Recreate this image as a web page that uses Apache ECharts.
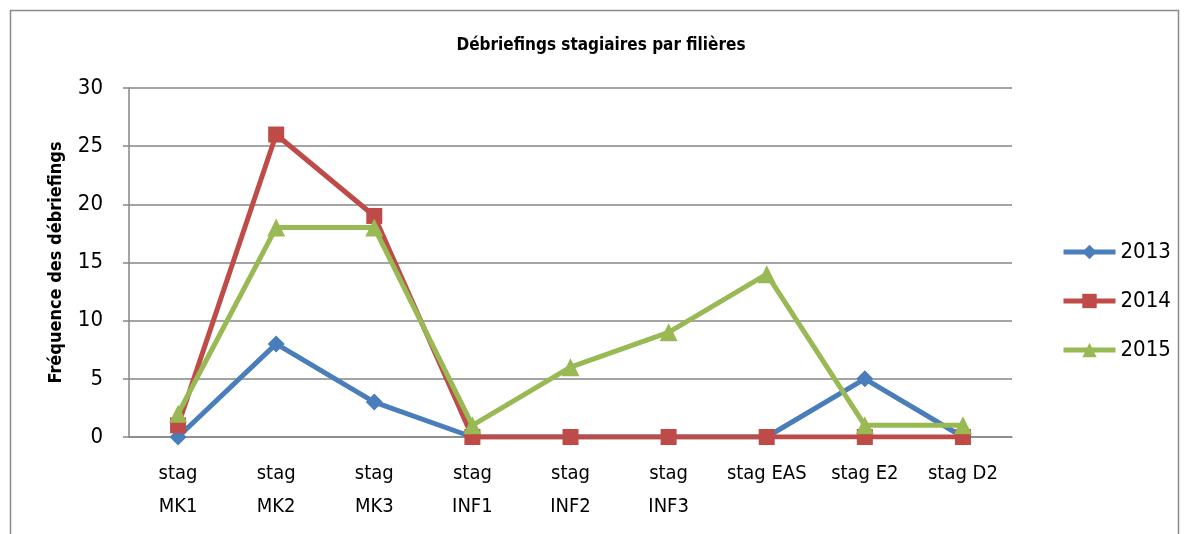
<!DOCTYPE html>
<html>
<head>
<meta charset="utf-8">
<script src="https://cdn.jsdelivr.net/npm/echarts@6/dist/echarts.min.js"></script>
<style>
  html, body { margin: 0; padding: 0; background: #fff; }
  #chart { width: 1189px; height: 534px; }
</style>
</head>
<body>
<div id="chart"></div>
<script>
// Training debriefings per programme, by year
const categories = ['stag\nMK1', 'stag\nMK2', 'stag\nMK3', 'stag\nINF1', 'stag\nINF2', 'stag\nINF3', 'stag EAS', 'stag E2', 'stag D2'];
const values2013 = [0, 8, 3, 0, 0, 0, 0, 5, 0];
const values2014 = [1, 26, 19, 0, 0, 0, 0, 0, 0];
const values2015 = [2, 18, 18, 1, 6, 9, 14, 1, 1];
const yTicks = { min: 0, max: 30, interval: 5 };

const FONT = '"DejaVu Sans Condensed", "Liberation Sans", sans-serif';
const chart = echarts.init(document.getElementById('chart'));

function lineSeries(name, data, color, symbol, size) {
  return {
    name: name,
    type: 'line',
    data: data,
    symbol: symbol,
    symbolSize: size,
    lineStyle: { color: color, width: 5 },
    itemStyle: { color: color },
    emphasis: { disabled: true },
    animation: false
  };
}

chart.setOption({
  animation: false,
  title: {
    text: 'Débriefings stagiaires par filières',
    left: 596,
    top: 32,
    textAlign: 'center',
    textStyle: { fontFamily: FONT, fontSize: 17, fontWeight: 'bold', color: '#000' }
  },
  graphic: [{
    type: 'rect',
    shape: { x: 10.5, y: 10.5, width: 1168, height: 540 },
    style: { fill: 'none', stroke: '#8a8a8a', lineWidth: 1.5 },
    silent: true
  }],
  legend: {
    orient: 'vertical',
    left: 1056,
    top: 236,
    itemWidth: 52,
    itemHeight: 18,
    itemGap: 27,
    lineStyle: { width: 5 },
    textStyle: { fontFamily: FONT, fontSize: 22, color: '#000' },
    data: ['2013', '2014', '2015']
  },
  grid: { left: 129, right: 177, top: 88, bottom: 97 },
  xAxis: {
    type: 'category',
    data: categories,
    boundaryGap: true,
    axisLine: { lineStyle: { color: '#868686', width: 1.5 } },
    axisTick: { show: false },
    axisLabel: { fontFamily: FONT, fontSize: 20, color: '#000', margin: 20, lineHeight: 33, interval: 0 }
  },
  yAxis: {
    type: 'value',
    min: yTicks.min,
    max: yTicks.max,
    interval: yTicks.interval,
    name: 'Fréquence des débriefings',
    nameLocation: 'middle',
    nameGap: 64,
    nameTextStyle: { fontFamily: FONT, fontSize: 18, fontWeight: 'bold', color: '#000' },
    axisLine: { show: true, lineStyle: { color: '#868686', width: 1.5 } },
    axisTick: { show: true, length: 6, lineStyle: { color: '#868686', width: 1.5 } },
    axisLabel: { fontFamily: FONT, fontSize: 22, color: '#000', margin: 26 },
    splitLine: { lineStyle: { color: '#868686', width: 1.5 } }
  },
  series: [
    lineSeries('2013', values2013, '#4A7EBB', 'diamond', 17),
    lineSeries('2014', values2014, '#BE4B48', 'rect', 16),
    lineSeries('2015', values2015, '#98B954', 'triangle', 18)
  ]
});
</script>
</body>
</html>
